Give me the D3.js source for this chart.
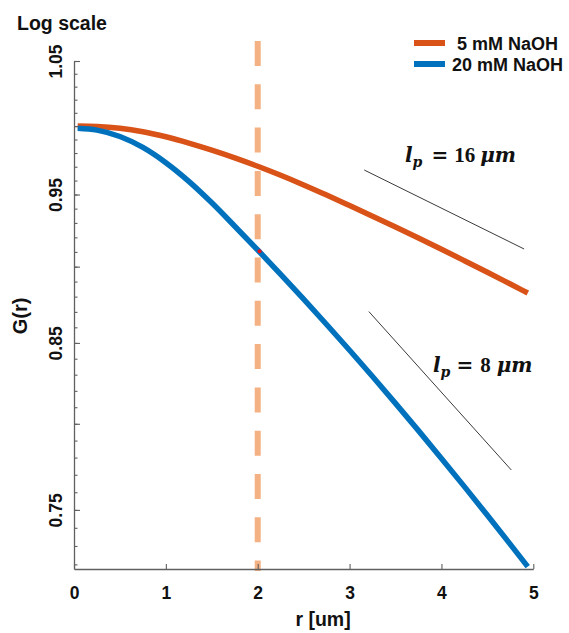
<!DOCTYPE html>
<html>
<head>
<meta charset="utf-8">
<script src="https://cdn.jsdelivr.net/npm/d3@7"></script>
<style>
  body { margin: 0; background: #fff; }
  svg { display: block; }
  .sans { font-family: "Liberation Sans", Arial, sans-serif; font-weight: bold; fill: #111; }
  .math { font-weight: bold; fill: #111; }
</style>
</head>
<body>
<svg id="chart" width="569" height="633"></svg>
<script>
// Correlation G(r) against separation r, two salt concentrations
const radius = [0.04, 0.25, 0.5, 0.75, 1.0, 1.25, 1.5, 1.75, 2.0, 2.25, 2.5, 2.75,
                3.0, 3.25, 3.5, 3.75, 4.0, 4.25, 4.5, 4.75, 4.94];
const g5mM  = [1.0000, 0.9997, 0.9984, 0.99581, 0.99203, 0.98738, 0.98216, 0.97648, 0.97035, 0.96378, 0.95686, 0.94961,
               0.94214, 0.93463, 0.92709, 0.91952, 0.91183, 0.90402, 0.89619, 0.88834, 0.88241];
const g20mM = [0.9984, 0.9970, 0.9922, 0.9841, 0.9729, 0.9594, 0.9441, 0.9277, 0.9113, 0.89480, 0.87831, 0.86182,
               0.84533, 0.82884, 0.81236, 0.79591, 0.77951, 0.76319, 0.74697, 0.73088, 0.71876];
const seriesNames  = ["5 mM NaOH", "20 mM NaOH"];
const seriesColors = ["#D95319", "#0072BD"];

// slope guides for persistence length
const guide16R = [3.16, 4.90];
const guide16G = [0.9676, 0.9120];
const guide8R  = [3.21, 4.76];
const guide8G  = [0.8702, 0.7728];
const guideLabels = ["16", "8"];

// vertical marker at r = 2 um and the point it meets on the 20 mM curve
const markerR = [2.02];
const markerG = [0.9104];

const xTicks = [0, 1, 2, 3, 4, 5];
const yMajorTicks = [0.75, 0.80, 0.85, 0.90, 0.95, 1.00, 1.05];
const yLabelled = [0.75, 0.85, 0.95, 1.05];
const yMinorTicks = d3.range(72, 106).map(d => d / 100);

const svg = d3.select("#chart");
const x = d3.scaleLinear().domain([0, 5]).range([74, 533.3]);
const y = d3.scaleLog().domain([0.7175, 1.05]).range([569, 61]);

const axisColor = "#606060";

// dashed vertical guide (drawn under the curves)
svg.append("line")
  .attr("x1", x(2)).attr("x2", x(2))
  .attr("y1", y(1.05) - 20).attr("y2", y.range()[0] + 2)
  .attr("stroke", "#F4B183").attr("stroke-width", 6)
  .attr("stroke-dasharray", "25 18.3");

// minor ticks on y
svg.append("g").attr("transform", `translate(${x(0)},0)`)
  .call(d3.axisLeft(y).tickValues(yMinorTicks).tickSize(-3.5).tickFormat(""))
  .call(g => g.select(".domain").remove())
  .call(g => g.selectAll("line").attr("stroke", axisColor).attr("stroke-width", 1.1));

// major ticks + rotated labels on y
const yAxis = svg.append("g").attr("transform", `translate(${x(0)},0)`)
  .call(d3.axisLeft(y).tickValues(yMajorTicks).tickSize(-6).tickSizeOuter(0)
        .tickFormat(d => yLabelled.some(v => Math.abs(v - d) < 1e-9) ? d3.format(".2f")(d) : ""));
yAxis.select(".domain").attr("stroke", axisColor).attr("stroke-width", 1.3);
yAxis.selectAll("line").attr("stroke", axisColor).attr("stroke-width", 1.1);
yAxis.selectAll("text")
  .attr("class", "sans").attr("font-size", 17.5)
  .attr("transform", "rotate(-90)")
  .attr("x", 0).attr("y", -12).attr("dy", 0)
  .attr("text-anchor", "middle");

// x axis
const xAxis = svg.append("g").attr("transform", `translate(0,${y.range()[0]})`)
  .call(d3.axisBottom(x).tickValues(xTicks).tickSize(-5).tickSizeOuter(0).tickPadding(17.5).tickFormat(d3.format("d")));
xAxis.select(".domain").attr("stroke", axisColor).attr("stroke-width", 1.3);
xAxis.selectAll("line").attr("stroke", axisColor).attr("stroke-width", 1.1);
xAxis.selectAll("text").attr("class", "sans").attr("font-size", 17.5);

// data curves
const line = d3.line().x(d => x(d[0])).y(d => y(d[1])).curve(d3.curveMonotoneX);
[g5mM, g20mM].forEach((vals, i) => {
  svg.append("path")
    .datum(radius.map((r, k) => [r, vals[k]]))
    .attr("fill", "none")
    .attr("stroke", seriesColors[i])
    .attr("stroke-width", 5.5)
    .attr("stroke-linejoin", "round")
    .attr("d", line);
});

svg.selectAll("circle.mark").data(markerR).enter().append("circle")
  .attr("class", "mark")
  .attr("cx", d => x(d)).attr("cy", (d, i) => y(markerG[i]))
  .attr("r", 2).attr("fill", "#e8101a");

// slope guides
[[guide16R, guide16G], [guide8R, guide8G]].forEach(([rs, gs]) => {
  svg.append("line")
    .attr("x1", x(rs[0])).attr("y1", y(gs[0]))
    .attr("x2", x(rs[1])).attr("y2", y(gs[1]))
    .attr("stroke", "#3a3a3a").attr("stroke-width", 1);
});

// "l_p = N μm" labels, laid out piece by piece
const italicFace = '"DejaVu Serif", serif';
const digitFace = '"Liberation Serif", serif';
function mathLabel(px, py, value, gaps) {
  const g = svg.append("g").attr("class", "math");
  let cx = px;
  const pieces = [
    { t: "l",  face: italicFace, italic: true,  size: 20, dy: 0 },
    { t: "p",  face: italicFace, italic: true,  size: 14, dy: 5 },
    { t: "=",  face: italicFace, italic: false, size: 20, dy: 0 },
    { t: value, face: digitFace, italic: false, size: 21, dy: 0 },
    { t: "μm", face: italicFace, italic: true,  size: 20, dy: 0 }
  ];
  pieces.forEach((p, i) => {
    const t = g.append("text")
      .attr("x", cx).attr("y", py + p.dy)
      .attr("font-family", p.face).attr("font-size", p.size)
      .attr("font-style", p.italic ? "italic" : "normal")
      .text(p.t);
    cx += t.node().getComputedTextLength() + (gaps[i] || 0);
  });
}
mathLabel(405, 162, guideLabels[0], [0, 9, 6, 5]);
mathLabel(433, 372, guideLabels[1], [0, 6, 7, 6]);

// legend
const legendX = 414, legendY = [43, 64];
seriesNames.forEach((name, i) => {
  svg.append("line")
    .attr("x1", legendX).attr("x2", legendX + 31)
    .attr("y1", legendY[i]).attr("y2", legendY[i])
    .attr("stroke", seriesColors[i]).attr("stroke-width", 6);
  svg.append("text").attr("class", "sans")
    .attr("x", 507.5).attr("y", legendY[i] + 6.5)
    .attr("text-anchor", "middle").attr("font-size", 18)
    .text(name);
});

// titles
svg.append("text").attr("class", "sans").attr("x", 17).attr("y", 29.5)
  .attr("font-size", 19.5).text("Log scale");
svg.append("text").attr("class", "sans").attr("x", 323).attr("y", 626)
  .attr("text-anchor", "middle").attr("font-size", 19.5).text("r [um]");
svg.append("text").attr("class", "sans")
  .attr("transform", "translate(27,316) rotate(-90)")
  .attr("text-anchor", "middle").attr("font-size", 20).text("G(r)");
</script>
</body>
</html>
